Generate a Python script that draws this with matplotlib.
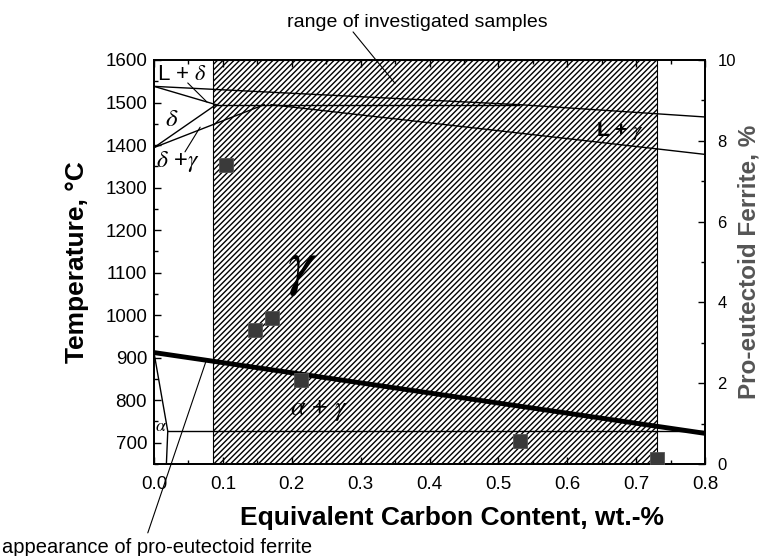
import matplotlib
matplotlib.use("Agg")
import matplotlib.pyplot as plt
from matplotlib.patches import Rectangle
from matplotlib.ticker import MultipleLocator

plt.rcParams['font.family'] = ['Liberation Sans', 'DejaVu Sans']
plt.rcParams['mathtext.fontset'] = 'stix'

# phase boundaries of the Fe-C diagram (wt.-% C, deg C)
liq_c = [0.0, 0.53, 0.8]
liq_t = [1538, 1495, 1466]
delta_sol_c = [0.0, 0.09]
delta_sol_t = [1538, 1495]
perit_c = [0.09, 0.53]
perit_t = [1495, 1495]
gamma_sol_c = [0.17, 0.8]
gamma_sol_t = [1495, 1378]
delta_solv_c = [0.0, 0.09]
delta_solv_t = [1394, 1495]
gamma_delta_c = [0.0, 0.16]
gamma_delta_t = [1394, 1495]
a3_c = [0.0, 0.8]
a3_t = [912, 722]
alpha_c = [0.0, 0.02, 0.018]
alpha_t = [912, 727, 650]
eutectoid_c = [0.02, 0.8]
eutectoid_t = [727, 727]

# investigated samples range
range_lo, range_hi = 0.085, 0.73

# pro-eutectoid ferrite content of the samples
ferrite_c = [0.104, 0.147, 0.171, 0.214, 0.532, 0.730]
ferrite_pct = [7.40, 3.32, 3.61, 2.08, 0.58, 0.12]

fig = plt.figure(figsize=(7.65, 5.56), dpi=100)
ax = fig.add_axes([0.2013, 0.1655, 0.7203, 0.7266])
ax.set_xlim(0, 0.8)
ax.set_ylim(650, 1600)

ax.add_patch(Rectangle((range_lo, 650), range_hi - range_lo, 950,
                       facecolor='none', edgecolor='black', hatch='//////',
                       linewidth=0.8, zorder=1))

lw = 1.0
for xs, ys in [(liq_c, liq_t), (delta_sol_c, delta_sol_t), (perit_c, perit_t),
               (gamma_sol_c, gamma_sol_t), (delta_solv_c, delta_solv_t),
               (gamma_delta_c, gamma_delta_t), (alpha_c, alpha_t),
               (eutectoid_c, eutectoid_t)]:
    ax.plot(xs, ys, color='black', lw=lw, zorder=3)
ax.plot(a3_c, a3_t, color='black', lw=3.5, zorder=3, solid_capstyle='butt')

# phase labels
ax.text(0.005, 1565, r'L + $\delta$', fontsize=16, ha='left', va='center')
ax.text(0.016, 1462, r'$\delta$', fontsize=18, ha='left', va='center')
ax.text(0.003, 1362, r'$\delta$ +$\gamma$', fontsize=17, ha='left', va='center')
ax.text(0.215, 1110, r'$\gamma$', fontsize=46, ha='center', va='center')
ax.text(0.24, 775, r'$\alpha$ + $\gamma$', fontsize=19, ha='center', va='center')
ax.text(0.676, 1432, r'L + $\gamma$', fontsize=15, ha='center', va='center',
        fontweight='bold')
ax.text(0.002, 738, r'$\alpha$', fontsize=13, ha='left', va='center')

line_kw = dict(arrowstyle='-', color='black', lw=0.8, shrinkA=0, shrinkB=0)
ax.annotate('', xy=(0.077, 1501), xytext=(0.049, 1546), arrowprops=line_kw)
ax.annotate('', xy=(0.067, 1442), xytext=(0.045, 1384), arrowprops=line_kw)
ax.annotate('', xy=(0.35, 1545), xytext=(0.289, 1666), arrowprops=line_kw,
            annotation_clip=False)
ax.text(0.383, 1689, 'range of investigated samples', fontsize=14,
        ha='center', va='center', clip_on=False)
ax.annotate('', xy=(0.076, 894), xytext=(-0.009, 488), arrowprops=line_kw,
            annotation_clip=False)
ax.text(-0.221, 453, 'appearance of pro-eutectoid ferrite', fontsize=14.5,
        ha='left', va='center', clip_on=False)

ax.xaxis.set_major_locator(MultipleLocator(0.1))
ax.xaxis.set_minor_locator(MultipleLocator(0.05))
ax.yaxis.set_major_locator(MultipleLocator(100))
ax.yaxis.set_minor_locator(MultipleLocator(50))
ax.tick_params(which='both', direction='in', top=True, right=False,
               labelsize=13.5, width=1)
ax.tick_params(which='major', length=5)
ax.tick_params(which='minor', length=3)
ax.tick_params(axis='x', pad=9)
ax.tick_params(axis='y', pad=5)
ax.set_xticks([0.0, 0.1, 0.2, 0.3, 0.4, 0.5, 0.6, 0.7, 0.8])
ax.set_xticklabels(['0.0', '0.1', '0.2', '0.3', '0.4', '0.5', '0.6', '0.7', '0.8'])
ax.set_xlabel('Equivalent Carbon Content, wt.-%', fontsize=19,
              fontweight='bold')
ax.xaxis.set_label_coords(0.54, -0.105)
ax.set_ylabel('Temperature, °C', fontsize=19, fontweight='bold', labelpad=12)
for s in ax.spines.values():
    s.set_linewidth(1.3)

ax2 = ax.twinx()
ax2.set_ylim(0, 10)
ax2.plot(ferrite_c, ferrite_pct, 's', color='#3a3a3a', markersize=10.5,
         markeredgecolor='#555555', markeredgewidth=0.6, zorder=5)
ax2.yaxis.set_major_locator(MultipleLocator(2))
ax2.yaxis.set_minor_locator(MultipleLocator(1))
ax2.tick_params(which='both', direction='in', labelsize=12, width=1, pad=9)
ax2.tick_params(which='major', length=5)
ax2.tick_params(which='minor', length=3)
ax2.set_ylabel('Pro-eutectoid Ferrite, %', fontsize=17.5, fontweight='bold',
               color='#555555', labelpad=1)
for s in ax2.spines.values():
    s.set_linewidth(1.3)

fig.savefig('out.png', dpi=100)
